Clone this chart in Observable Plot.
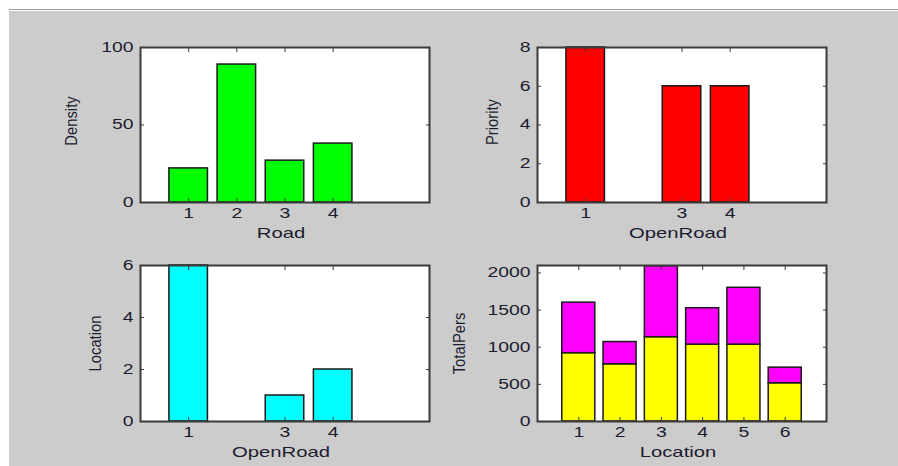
<!DOCTYPE html>
<html><head><meta charset="utf-8">
<script src="https://cdn.jsdelivr.net/npm/d3@7"></script>
<script src="https://cdn.jsdelivr.net/npm/@observablehq/plot@0.6"></script>
<style>
html,body{margin:0;padding:0;background:#fff;}
#page{position:relative;width:898px;height:466px;overflow:hidden;}
#bg{position:absolute;left:9px;top:9px;right:0;bottom:0;background:#cccccc;border-top:1px solid #9a9a9a;box-shadow:inset 0 1px 0 #fff;}
#page svg{position:absolute;left:0;top:0;}
</style></head><body><div id="page"><div id="bg"></div></div>
<script>
// ---- data ----
const roads = [1, 2, 3, 4];
const density = [22, 89, 27, 38];
const openRoads = [1, 3, 4];
const priority = [8, 6, 6];
const locationCount = [6, 1, 2];
const locations = [1, 2, 3, 4, 5, 6];
const persLower = [920, 770, 1135, 1035, 1035, 515];
const persUpper = [680, 300, 955, 490, 765, 210];
const densityTicks = [0, 50, 100];
const priorityTicks = [0, 2, 4, 6, 8];
const locationTicks = [0, 2, 4, 6];
const persTicks = [0, 500, 1000, 1500, 2000];

const W = 898, H = 466;
const ink = "#1c1c30";
const edge = "#3a3a3a";
const barStroke = "#1a1a1a";
const page = document.getElementById("page");

function bars(xs, ys, fill) {
  const rows = xs.map((x, i) => ({x, v: ys[i]}));
  return Plot.rect(rows, {x1: d => d.x - 0.4, x2: d => d.x + 0.4, y1: () => 0, y2: "v",
    fill, stroke: barStroke, strokeWidth: 1.5});
}

function widen(el, k) {
  const len = el.getComputedTextLength();
  if (len > 0) {
    el.setAttribute("textLength", (len * k).toFixed(1));
    el.setAttribute("lengthAdjust", "spacingAndGlyphs");
  }
}

function panel({frame: [l, r, t, b], xDomain, xTicks, yDomain, yTicks, xLabel, yLabel, yDx, yDy, marks}) {
  const fmt = d => String(d);
  const svg = Plot.plot({
    width: W, height: H,
    marginLeft: l, marginRight: W - r, marginTop: t, marginBottom: H - b,
    style: {background: "transparent", fontFamily: "'Liberation Sans', Arial, sans-serif", fontSize: "14px", color: ink},
    x: {domain: xDomain},
    y: {domain: yDomain},
    marks: [
      Plot.frame({fill: "white", stroke: null}),
      ...marks,
      Plot.axisX(xTicks, {anchor: "bottom", tickSize: -4, tickFormat: () => "", label: null, stroke: edge}),
      Plot.axisX(xTicks, {anchor: "top", tickSize: -4, tickFormat: () => "", label: null, stroke: edge}),
      Plot.axisY(yTicks, {anchor: "left", tickSize: -4, tickFormat: () => "", label: null, stroke: edge}),
      Plot.axisY(yTicks, {anchor: "right", tickSize: -4, tickFormat: () => "", label: null, stroke: edge}),
      Plot.axisX(xTicks, {anchor: "bottom", tickSize: 0, tickPadding: 6, tickFormat: fmt, label: null, fill: ink}),
      Plot.axisY(yTicks, {anchor: "left", tickSize: 0, tickPadding: 7, tickFormat: fmt, label: null, fill: ink}),
      Plot.frame({stroke: edge, strokeWidth: 2}),
      Plot.text([xLabel], {frameAnchor: "bottom", dy: 25, dx: -4, lineAnchor: "top", textAnchor: "middle",
        text: d => d, fontSize: 15, fill: ink}),
      Plot.text([yLabel], {frameAnchor: "left", dx: yDx, dy: yDy, rotate: -90, lineAnchor: "top", textAnchor: "middle",
        text: d => d, fontSize: 17, fill: ink})
    ]
  });
  page.appendChild(svg);
  // horizontally widened lettering, as in the reference
  svg.querySelectorAll('g[aria-label="x-axis tick label"] text, g[aria-label="y-axis tick label"] text')
    .forEach(el => widen(el, 1.38));
  svg.querySelectorAll('g[aria-label="text"] text')
    .forEach(el => {
      if (el.textContent === xLabel) widen(el, 1.35);
      else if (el.textContent === yLabel) widen(el, 0.87);
    });
}

panel({frame: [140, 429, 47, 202], xDomain: [0, 6], xTicks: roads, yDomain: [0, 100], yTicks: densityTicks,
  xLabel: "Road", yLabel: "Density", yDx: -76, yDy: -4,
  marks: [bars(roads, density, "#00ff00")]});

panel({frame: [537, 826, 47, 202], xDomain: [0, 6], xTicks: openRoads, yDomain: [0, 8], yTicks: priorityTicks,
  xLabel: "OpenRoad", yLabel: "Priority", yDx: -52, yDy: -3,
  marks: [bars(openRoads, priority, "#ff0000")]});

panel({frame: [140, 429, 265, 421], xDomain: [0, 6], xTicks: openRoads, yDomain: [0, 6], yTicks: locationTicks,
  xLabel: "OpenRoad", yLabel: "Location", yDx: -52, yDy: 0,
  marks: [bars(openRoads, locationCount, "#00ffff")]});

const persRows = locations.map((x, i) => ({x, lo: persLower[i], hi: persLower[i] + persUpper[i]}));
panel({frame: [537, 826, 265, 421], xDomain: [0, 7], xTicks: locations, yDomain: [0, 2100], yTicks: persTicks,
  xLabel: "Location", yLabel: "TotalPers", yDx: -85, yDy: 0,
  marks: [
    Plot.rect(persRows, {x1: d => d.x - 0.4, x2: d => d.x + 0.4, y1: () => 0, y2: "lo",
      fill: "#ffff00", stroke: barStroke, strokeWidth: 1.5}),
    Plot.rect(persRows, {x1: d => d.x - 0.4, x2: d => d.x + 0.4, y1: "lo", y2: "hi",
      fill: "#ff00ff", stroke: barStroke, strokeWidth: 1.5})
  ]});
</script>
</body></html>
